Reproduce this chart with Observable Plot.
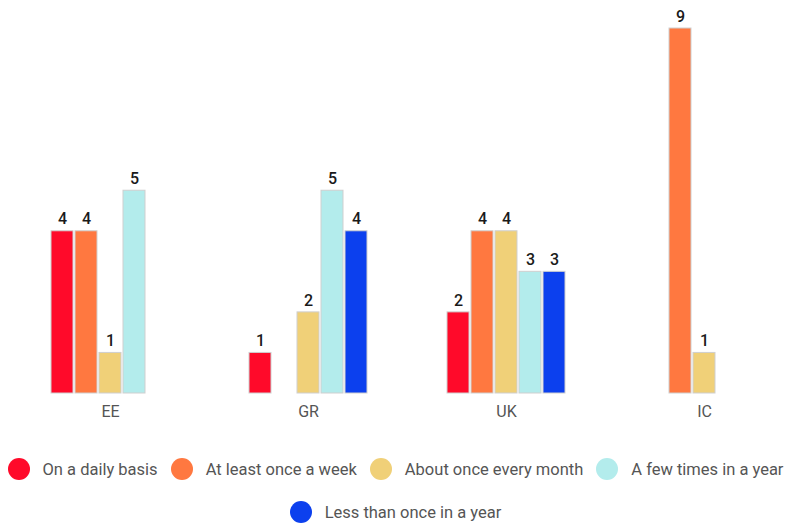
<!DOCTYPE html>
<html>
<head>
<meta charset="utf-8">
<script src="https://cdn.jsdelivr.net/npm/d3@7"></script>
<script src="https://cdn.jsdelivr.net/npm/@observablehq/plot@0.6"></script>
<style>
  body { margin: 0; background: #fff; font-family: Roboto, "Noto Sans", sans-serif; }
  #chart { width: 791px; }
  .legend {
    width: 791px; display: flex; flex-wrap: wrap; justify-content: center;
    row-gap: 21px; padding-top: 28px; font-size: 16.5px; color: #555;
  }
  .legend .item { display: flex; align-items: center; height: 22px; margin: 0 6.5px; }
  .legend .dot { width: 22px; height: 22px; border-radius: 50%; margin-right: 13px; }
</style>
</head>
<body>
<div id="chart"></div>
<script>
// Countries shown as groups along the bottom
const countries = ["EE", "GR", "UK", "IC"];

// Frequency categories (one bar per category within each country)
const frequencies = [
  "On a daily basis",
  "At least once a week",
  "About once every month",
  "A few times in a year",
  "Less than once in a year"
];
const colors = ["#ff0a2a", "#ff7840", "#f0d078", "#b3ecec", "#0c40ee"];

// Counts per frequency, ordered as in `countries` (null = no bar)
const daily   = [4, 1, 2, null];
const weekly  = [4, null, 4, 9];
const monthly = [1, 2, 4, 1];
const yearly  = [5, 5, 3, null];
const rarely  = [null, 4, 3, null];

const series = [daily, weekly, monthly, yearly, rarely];
const rows = [];
series.forEach((vals, i) => {
  vals.forEach((v, j) => {
    if (v != null) rows.push({country: countries[j], freq: frequencies[i], value: v});
  });
});

const plot = Plot.plot({
  width: 791,
  height: 430,
  marginTop: 28,
  marginBottom: 37,
  marginLeft: 38,
  marginRight: 15,
  style: {fontFamily: "Roboto, sans-serif", fontSize: "16px", color: "#555", background: "#fff"},
  fx: {
    domain: countries, paddingInner: 0.374, paddingOuter: 0.05,
    axis: "bottom", label: null, tickSize: 0, tickPadding: 12
  },
  x: {domain: frequencies, paddingInner: 0.08, paddingOuter: 0.04, axis: null},
  y: {domain: [0, 9], axis: null},
  color: {domain: frequencies, range: colors},
  marks: [
    Plot.barY(rows, {
      fx: "country", x: "freq", y: "value", fill: "freq",
      stroke: "#cfcfcf", strokeWidth: 1
    }),
    Plot.text(rows, {
      fx: "country", x: "freq", y: "value", text: d => String(d.value),
      dy: -12, fontSize: 16, fontWeight: 500, fill: "#1a1a1a"
    })
  ]
});
document.getElementById("chart").appendChild(plot);

// Legend below the chart
const legend = document.createElement("div");
legend.className = "legend";
frequencies.forEach((f, i) => {
  const item = document.createElement("div");
  item.className = "item";
  const dot = document.createElement("span");
  dot.className = "dot";
  dot.style.background = colors[i];
  const label = document.createElement("span");
  label.textContent = f;
  item.append(dot, label);
  legend.appendChild(item);
});
document.getElementById("chart").appendChild(legend);
</script>
</body>
</html>
